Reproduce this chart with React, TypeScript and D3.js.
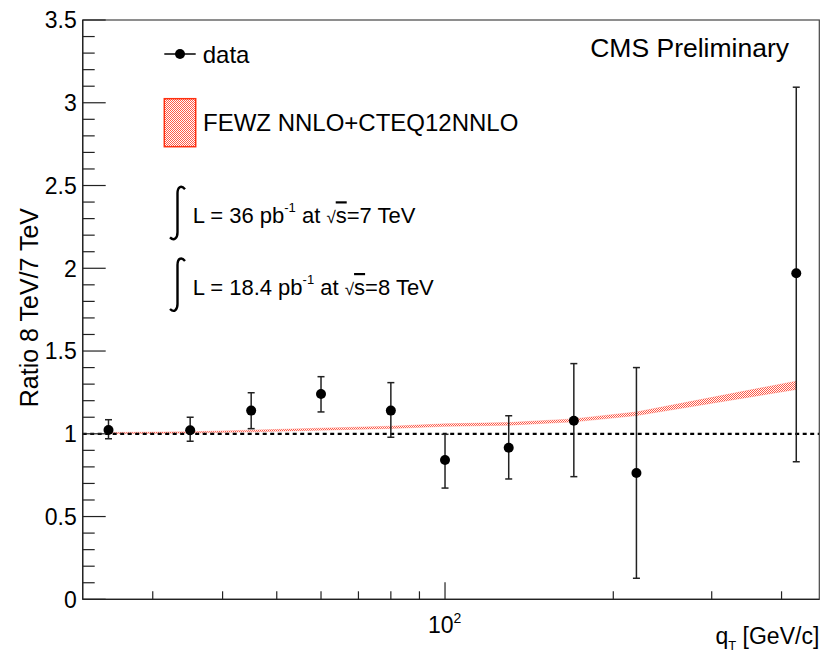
import React from "react";
import * as d3 from "d3";

const qT = [25, 35, 45, 60, 80, 100, 130, 170, 220, 425];
const ratio = [1.023, 1.021, 1.14, 1.24, 1.14, 0.842, 0.916, 1.079, 0.763, 1.97];
const ratioLow = [0.97, 0.955, 1.031, 1.132, 0.979, 0.672, 0.727, 0.741, 0.127, 0.831];
const ratioHigh = [1.085, 1.1, 1.248, 1.345, 1.309, 0.997, 1.109, 1.424, 1.4, 3.094];
const theoryLow = [1.0, 1.004, 1.012, 1.022, 1.032, 1.045, 1.052, 1.072, 1.11, 1.268];
const theoryHigh = [1.008, 1.012, 1.022, 1.034, 1.046, 1.06, 1.068, 1.09, 1.132, 1.318];
const yMajorTicks = [0, 0.5, 1, 1.5, 2, 2.5, 3, 3.5];
const yTickLabels = ["0", "0.5", "1", "1.5", "2", "2.5", "3", "3.5"];
const xMinorTicks = [30, 40, 50, 60, 70, 80, 90, 200, 300, 400];
const xMajorTicks = [100];

const W = 821;
const H = 653;
const L = 82.7;
const R = 819.3;
const T = 20;
const B = 599.3;
const FONT = "'Liberation Sans', Arial, Helvetica, sans-serif";

export default function App() {
  const x = d3.scaleLog().domain([22.48, 467.3]).range([L, R]);
  const y = d3.scaleLinear().domain([0, 3.5]).range([B, T]);

  const yMinor = d3.range(0, 35).map((i) => i / 10).filter((v) => Math.abs(v * 2 - Math.round(v * 2)) > 1e-6);

  const band = d3
    .area<number>()
    .x((_, i) => x(qT[i]))
    .y0((_, i) => y(theoryLow[i]))
    .y1((_, i) => y(theoryHigh[i]))(qT);

  const capW = 3.5;

  return (
    <svg width={W} height={H} style={{ position: "fixed", left: 0, top: 0, background: "#fff" }} fontFamily={FONT}>
      <defs>
        <pattern id="hatch" width="2" height="2" patternUnits="userSpaceOnUse">
          <rect x="0" y="0" width="2" height="2" fill="#fff" />
          <rect x="0" y="0" width="1" height="1" fill="#ff5a48" />
          <rect x="1" y="1" width="1" height="1" fill="#ff5a48" />
        </pattern>
      </defs>
      <rect x={0} y={0} width={W} height={H} fill="#fff" />

      {/* theory band */}
      <path d={band || ""} fill="url(#hatch)" stroke="#ff5040" strokeWidth={0.5} strokeOpacity={0.5} />

      {/* dashed line at 1 */}
      <line x1={L} x2={R} y1={y(1)} y2={y(1)} stroke="#000" strokeWidth={2.2} strokeDasharray="4,3.5" />

      {/* data */}
      {qT.map((q, i) => (
        <g key={i}>
          <line x1={x(q)} x2={x(q)} y1={y(ratioLow[i])} y2={y(ratioHigh[i])} stroke="#222" strokeWidth={1.5} />
          <line x1={x(q) - capW} x2={x(q) + capW} y1={y(ratioLow[i])} y2={y(ratioLow[i])} stroke="#222" strokeWidth={1.5} />
          <line x1={x(q) - capW} x2={x(q) + capW} y1={y(ratioHigh[i])} y2={y(ratioHigh[i])} stroke="#222" strokeWidth={1.5} />
          <circle cx={x(q)} cy={y(ratio[i])} r={5} fill="#000" />
        </g>
      ))}

      {/* frame */}
      <rect x={L} y={T} width={R - L} height={B - T} fill="none" stroke="#444" strokeWidth={1.2} />
      <line x1={L} x2={L} y1={T} y2={B} stroke="#222" strokeWidth={1.3} />
      <line x1={L} x2={R} y1={B} y2={B} stroke="#222" strokeWidth={1.3} />

      {/* y ticks */}
      {yMajorTicks.map((v, i) => (
        <g key={"ym" + i}>
          <line x1={L} x2={L + 23} y1={y(v)} y2={y(v)} stroke="#222" strokeWidth={1.2} />
          <text x={76.7} y={y(v) + 8.3} textAnchor="end" fontSize={23} fill="#000">
            {yTickLabels[i]}
          </text>
        </g>
      ))}
      {yMinor.map((v, i) => (
        <line key={"yn" + i} x1={L} x2={L + 12} y1={y(v)} y2={y(v)} stroke="#222" strokeWidth={1.2} />
      ))}

      {/* x ticks */}
      {xMajorTicks.map((v, i) => (
        <g key={"xm" + i}>
          <line x1={x(v)} x2={x(v)} y1={B} y2={B - 17} stroke="#222" strokeWidth={1.2} />
          <text x={x(v) - 17} y={632.5} fontSize={23} fill="#000">
            10
            <tspan dy={-10} fontSize={14}>2</tspan>
          </text>
        </g>
      ))}
      {xMinorTicks.map((v, i) => (
        <line key={"xn" + i} x1={x(v)} x2={x(v)} y1={B} y2={B - 8} stroke="#222" strokeWidth={1.2} />
      ))}

      {/* axis titles */}
      <text x={R} y={644} textAnchor="end" fontSize={23} fill="#000">
        q<tspan dy={6} fontSize={13}>T</tspan>
        <tspan dy={-6}> [GeV/c]</tspan>
      </text>
      <text transform="translate(38,208) rotate(-90)" textAnchor="end" fontSize={25} fill="#000">
        Ratio 8 TeV/7 TeV
      </text>

      {/* CMS label */}
      <text x={789} y={56.7} textAnchor="end" fontSize={26.5} fill="#000">
        CMS Preliminary
      </text>

      {/* legend */}
      <line x1={164.3} x2={195.7} y1={54} y2={54} stroke="#000" strokeWidth={1.5} />
      <circle cx={180} cy={54} r={5} fill="#000" />
      <text x={202.7} y={62.5} fontSize={24} fill="#000">data</text>

      <rect x={164.3} y={98.7} width={31.4} height={48} fill="url(#hatch)" stroke="#ff3010" strokeWidth={1.5} />
      <text x={203} y={131} fontSize={24} fill="#000">FEWZ NNLO+CTEQ12NNLO</text>

      {/* luminosity */}
      {[
        { by: 223.3, lumi: "36", rs: "7" },
        { by: 295, lumi: "18.4", rs: "8" },
      ].map((d, i) => (
        <g key={"lumi" + i}>
          <path
            d={`M 185 ${d.by - 34} C 181 ${d.by - 39} 177.5 ${d.by - 36} 177.5 ${d.by - 30} L 177.5 ${d.by + 9} C 177.5 ${d.by + 15} 174 ${d.by + 18} 170 ${d.by + 14}`}
            fill="none"
            stroke="#000"
            strokeWidth={2.4}
          />
          <text x={192.7} y={d.by} fontSize={22} fill="#000">
            {`L = ${d.lumi} pb`}
            <tspan dy={-11} fontSize={13}>-1</tspan>
            <tspan dy={11}>{" at "}</tspan>
            <tspan fontSize={17}>√</tspan>
            <tspan style={{ textDecoration: "overline" }}>s</tspan>
            <tspan>{`=${d.rs} TeV`}</tspan>
          </text>
        </g>
      ))}
    </svg>
  );
}
